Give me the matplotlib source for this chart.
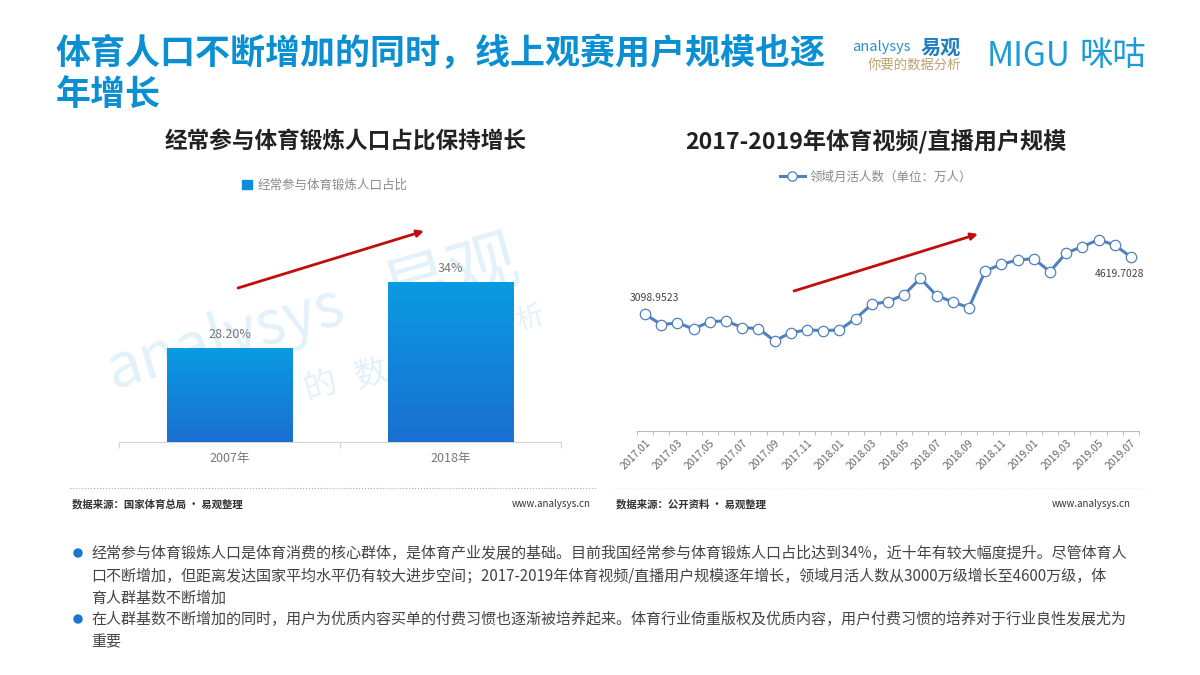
import matplotlib
matplotlib.use("Agg")
import matplotlib.pyplot as plt
import numpy as np
from matplotlib.colors import LinearSegmentedColormap

plt.rcParams['font.family'] = ['Noto Sans CJK SC', 'DejaVu Sans']

W, H = 1200, 675

# data
bar_years = ['2007年', '2018年']
bar_values = [28.2, 34]
bar_labels = ['28.20%', '34%']

months = ['2017.01', '2017.02', '2017.03', '2017.04', '2017.05', '2017.06', '2017.07', '2017.08',
          '2017.09', '2017.10', '2017.11', '2017.12', '2018.01', '2018.02', '2018.03', '2018.04',
          '2018.05', '2018.06', '2018.07', '2018.08', '2018.09', '2018.10', '2018.11', '2018.12',
          '2019.01', '2019.02', '2019.03', '2019.04', '2019.05', '2019.06', '2019.07']
users = [3098.9523, 2825, 2869, 2710, 2904, 2922, 2745, 2719, 2392, 2613, 2683, 2666, 2683, 2984, 3364,
         3435, 3621, 4054, 3594, 3426, 3276, 4248, 4425, 4540, 4575, 4231, 4726, 4894, 5079, 4938, 4619.7028]

# full-width punctuation written as escapes
COMMA, SEMI, COLON, LP, RP = '\uff0c', '\uff1b', '\uff1a', '\uff08', '\uff09'

title_lines = ['体育人口不断增加的同时' + COMMA + '线上观赛用户规模也逐', '年增长']
body_lines = [
    '经常参与体育锻炼人口是体育消费的核心群体' + COMMA + '是体育产业发展的基础。目前我国经常参与体育锻炼人口占比达到34%' + COMMA
    + '近十年有较大幅度提升。尽管体育人',
    '口不断增加' + COMMA + '但距离发达国家平均水平仍有较大进步空间' + SEMI + '2017-2019年体育视频/直播用户规模逐年增长' + COMMA
    + '领域月活人数从3000万级增长至4600万级' + COMMA + '体',
    '育人群基数不断增加',
    '在人群基数不断增加的同时' + COMMA + '用户为优质内容买单的付费习惯也逐渐被培养起来。体育行业倚重版权及优质内容' + COMMA
    + '用户付费习惯的培养对于行业良性发展尤为',
    '重要',
]
BLUE = '#0b8fd3'

fig = plt.figure(figsize=(W / 100, H / 100), dpi=100, facecolor='white')


# everything outside the plots is placed in pixels of the slide
def txt(x, y, s, **kw):
    kw.setdefault('va', 'center')
    return fig.text(x / W, 1 - y / H, s, **kw)


def px_axes(x0, y0, x1, y1):
    return fig.add_axes([x0 / W, 1 - y1 / H, (x1 - x0) / W, (y1 - y0) / H])


def arrow(x0, y0, x1, y1):
    fig.add_artist(matplotlib.patches.FancyArrowPatch(
        (x0 / W, 1 - y0 / H), (x1 / W, 1 - y1 / H), transform=fig.transFigure,
        arrowstyle='-|>', mutation_scale=10, color='#c00d0d', lw=2.0, shrinkA=0, shrinkB=0, zorder=10))


def hline(x0, x1, y, color, ls):
    fig.add_artist(plt.Line2D([x0 / W, x1 / W], [1 - y / H] * 2, color=color, lw=0.8, ls=ls))


# title and logos
for line, y in zip(title_lines, [53, 95]):
    txt(56, y, line, fontsize=25.2, fontweight='bold', color=BLUE)
txt(852, 47, 'analysys', fontsize=10.5, color='#2c8fc4', style='italic')
txt(921, 47, '易观', fontsize=14.5, fontweight='bold', color='#1f7fbf')
txt(868, 65, '你要的数据分析', fontsize=9.6, color='#b9a26c')
txt(987, 56, 'MIGU', fontsize=24, color='#1b9bd8')
txt(1079, 56, '咪咕', fontsize=24, color='#1b9bd8')

# chart titles
txt(346, 141, '经常参与体育锻炼人口占比保持增长', fontsize=16.3, fontweight='bold', color='#222222', ha='center')
txt(876, 141, '2017-2019年体育视频/直播用户规模', fontsize=16.7, fontweight='bold', color='#222222', ha='center')

# watermark, behind the plots
for x, y, s, size in [(108, 372, 'analysys', 44), (384, 298, '易观', 50), (203, 425, '你', 30),
                      (304, 390, '的', 24), (355, 378, '数', 24), (516, 322, '析', 20)]:
    txt(x, y, s, fontsize=size, color='#e2f1fa', rotation=16, rotation_mode='anchor', zorder=-1,
        style='italic' if s == 'analysys' else 'normal')

# left chart: bars
ax1 = px_axes(119, 214, 561, 442)
ax1.patch.set_alpha(0)
xb = np.arange(len(bar_values))
bars = ax1.bar(xb, bar_values, width=0.566, color='#0a8fdc')
cmap = LinearSegmentedColormap.from_list('bar', ['#1a6fd0', '#0a9be2'])
grad = np.linspace(0, 1, 128).reshape(-1, 1)
for b in bars:
    ax1.imshow(grad, origin='lower', aspect='auto', cmap=cmap, zorder=3,
               extent=[b.get_x(), b.get_x() + b.get_width(), 20, b.get_height()])
for x, v, lab in zip(xb, bar_values, bar_labels):
    ax1.annotate(lab, (x, v), xytext=(0, 10), textcoords='offset points', ha='center', va='center',
                 fontsize=9, color='#777777', zorder=5)
ax1.set_xlim(-0.5, 1.5)
ax1.set_ylim(20, 40)
ax1.set_yticks([])
ax1.set_xticks(xb)
ax1.set_xticklabels(bar_years, fontsize=9, color='#777777')
ax1.set_xticks([-0.5, 0.5, 1.5], minor=True)
ax1.tick_params(axis='x', which='major', length=0, pad=7)
ax1.tick_params(axis='x', which='minor', length=4, color='#d5d5d5', width=0.8)
for s in ['top', 'left', 'right']:
    ax1.spines[s].set_visible(False)
ax1.spines['bottom'].set_color('#d5d5d5')
fig.legend(handles=[matplotlib.patches.Patch(color='#0a8fdc', label='经常参与体育锻炼人口占比')],
           loc='center', bbox_to_anchor=(325 / W, 1 - 185 / H), frameon=False, fontsize=9,
           labelcolor='#8a8a8a', handlelength=0.75, handleheight=0.75, handletextpad=0.5)

# right chart: line
ax2 = px_axes(637, 205, 1139, 431)
ax2.patch.set_alpha(0)
xl = np.arange(len(users))
line, = ax2.plot(xl, users, color='#4f81bd', lw=2.2, marker='o', ms=7.5, mfc='white', mec='#4f81bd', mew=0.9,
                 clip_on=False, label='领域月活人数' + LP + '单位' + COLON + '万人' + RP)
ax2.set_xlim(-0.5, len(users) - 0.5)
ax2.set_ylim(0, 6000)
ax2.set_yticks([])
ax2.set_xticks(xl[::2])
ax2.set_xticklabels(months[::2], rotation=45, ha='right', rotation_mode='anchor', fontsize=7.5, color='#666666')
ax2.set_xticks(np.arange(len(users) + 1) - 0.5, minor=True)
ax2.tick_params(axis='x', which='major', length=0, pad=5)
ax2.tick_params(axis='x', which='minor', length=3, color='#bbbbbb', width=0.8)
for s in ['top', 'left', 'right']:
    ax2.spines[s].set_visible(False)
ax2.spines['bottom'].set_color('#bbbbbb')
ax2.annotate('3098.9523', (xl[0], users[0]), xytext=(7, 12), textcoords='offset points', ha='center', va='center',
             fontsize=7.5, color='#444444')
ax2.annotate('4619.7028', (xl[-1], users[-1]), xytext=(-8, -12), textcoords='offset points', ha='center', va='center',
             fontsize=7.5, color='#444444')
fig.legend(handles=[line], loc='center', bbox_to_anchor=(876 / W, 1 - 177 / H), frameon=False, fontsize=9,
           labelcolor='#8a8a8a', handlelength=2.0, handletextpad=0.4, markerscale=0.9)

# trend arrows
arrow(238, 288, 424, 231)
arrow(794, 291, 978, 234)

# source lines
hline(70, 597, 488, '#aaaaaa', ':')
hline(613, 1145, 488, '#eeeeee', ':')
txt(72, 504, '数据来源' + COLON + '国家体育总局 · 易观整理', fontsize=7.5, fontweight='bold', color='#333333')
txt(512, 504, 'www.analysys.cn', fontsize=7, color='#333333')
txt(616, 504, '数据来源' + COLON + '公开资料 · 易观整理', fontsize=7.5, fontweight='bold', color='#333333')
txt(1052, 504, 'www.analysys.cn', fontsize=7, color='#333333')

# body text
for line_s, y in zip(body_lines, [554, 576, 598, 620, 642]):
    txt(91, y, line_s, fontsize=10.85, color='#444444')
for y in [553, 619]:
    fig.add_artist(matplotlib.patches.Ellipse((78 / W, 1 - y / H), 8 / W, 8 / H, transform=fig.transFigure,
                                              color='#1a76d2'))

fig.savefig('out.png', dpi=100)
